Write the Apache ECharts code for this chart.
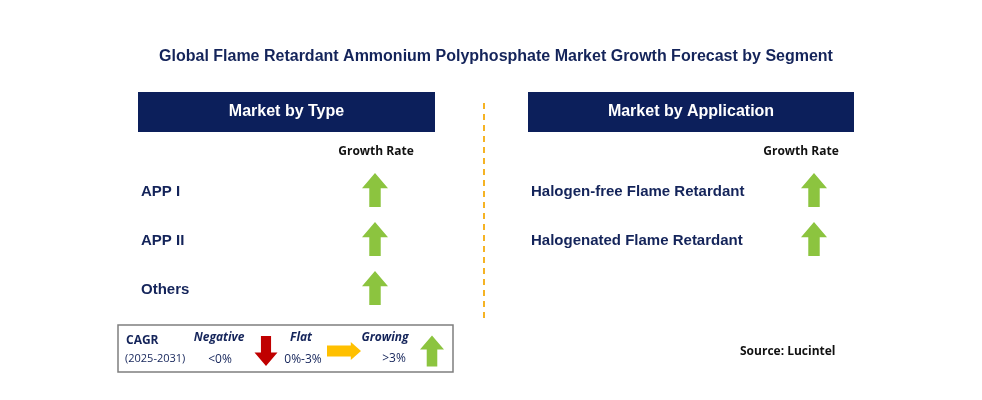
<!DOCTYPE html>
<html>
<head>
<meta charset="utf-8">
<script src="https://cdn.jsdelivr.net/npm/echarts@6/dist/echarts.min.js"></script>
<style>html,body{margin:0;padding:0;background:#fff}#main{width:982px;height:400px}</style>
</head>
<body>
<div id="main"></div>
<script>
var titleText = 'Global Flame Retardant Ammonium Polyphosphate Market Growth Forecast by Segment';
var typeSegments = ['APP I', 'APP II', 'Others'];
var typeRates = ['up', 'up', 'up'];
var appSegments = ['Halogen-free Flame Retardant', 'Halogenated Flame Retardant'];
var appRates = ['up', 'up'];

var navy = '#0c1f5b';
var txt = '#14245a';
var green = '#8cc43f';
var red = '#c00000';
var amber = '#ffc000';

// arrow polygon centred at (cx, cy)
function arrow(cx, cy, dir, w, h, color) {
    var hw = w / 2, sw = w * 0.22, hh = h * 0.45;
    var pts;
    if (dir === 'up') {
        pts = [[cx, cy - h/2], [cx + hw, cy - h/2 + hh], [cx + sw, cy - h/2 + hh], [cx + sw, cy + h/2],
               [cx - sw, cy + h/2], [cx - sw, cy - h/2 + hh], [cx - hw, cy - h/2 + hh]];
    } else if (dir === 'down') {
        pts = [[cx, cy + h/2], [cx + hw, cy + h/2 - hh], [cx + sw, cy + h/2 - hh], [cx + sw, cy - h/2],
               [cx - sw, cy - h/2], [cx - sw, cy + h/2 - hh], [cx - hw, cy + h/2 - hh]];
    } else {
        // right: w is length, h is thickness
        var th = h * 0.3, hl = w * 0.3;
        pts = [[cx + w/2, cy], [cx + w/2 - hl, cy - h/2], [cx + w/2 - hl, cy - th], [cx - w/2, cy - th],
               [cx - w/2, cy + th], [cx + w/2 - hl, cy + th], [cx + w/2 - hl, cy + h/2]];
    }
    return {type: 'polygon', shape: {points: pts}, style: {fill: color}};
}
function colorOf(d) { return d === 'up' ? green : d === 'down' ? red : amber; }

var g = [];
g.push({type: 'text', x: 496, y: 57, style: {text: titleText, font: 'bold 16px "Liberation Sans", Arial', fill: txt, align: 'center', verticalAlign: 'middle'}});

// headers
g.push({type: 'rect', shape: {x: 138, y: 92, width: 297, height: 40}, style: {fill: navy}});
g.push({type: 'text', x: 286.5, y: 112, style: {text: 'Market by Type', font: 'bold 16px "Liberation Sans", Arial', fill: '#fff', align: 'center', verticalAlign: 'middle'}});
g.push({type: 'rect', shape: {x: 528, y: 92, width: 326, height: 40}, style: {fill: navy}});
g.push({type: 'text', x: 691, y: 112, style: {text: 'Market by Application', font: 'bold 16px "Liberation Sans", Arial', fill: '#fff', align: 'center', verticalAlign: 'middle'}});

// divider
g.push({type: 'line', shape: {x1: 484, y1: 103, x2: 484, y2: 320}, style: {stroke: '#f5b324', lineWidth: 2, lineDash: [6, 5]}});

g.push({type: 'text', x: 376, y: 152, style: {text: 'Growth Rate', font: 'bold 12px "Open Sans", Arial', fill: '#111', align: 'center', verticalAlign: 'middle'}});
g.push({type: 'text', x: 801, y: 152, style: {text: 'Growth Rate', font: 'bold 12px "Open Sans", Arial', fill: '#111', align: 'center', verticalAlign: 'middle'}});

var rowY = [192, 241, 290];
typeSegments.forEach(function (s, i) {
    g.push({type: 'text', x: 141, y: rowY[i], style: {text: s, font: 'bold 15px "Liberation Sans", Arial', fill: txt, verticalAlign: 'middle'}});
    g.push(arrow(375, rowY[i] - 2, typeRates[i], 26, 34, colorOf(typeRates[i])));
});
appSegments.forEach(function (s, i) {
    g.push({type: 'text', x: 531, y: rowY[i], style: {text: s, font: 'bold 15px "Liberation Sans", Arial', fill: txt, verticalAlign: 'middle'}});
    g.push(arrow(814, rowY[i] - 2, appRates[i], 26, 34, colorOf(appRates[i])));
});

// legend box
g.push({type: 'rect', shape: {x: 118, y: 325, width: 335, height: 47}, style: {fill: '#fff', stroke: '#7f7f7f', lineWidth: 1.5}});
g.push({type: 'text', x: 126, y: 341, style: {text: 'CAGR', font: 'bold 12px "Open Sans", Arial', fill: txt, verticalAlign: 'middle'}});
g.push({type: 'text', x: 125, y: 359, style: {text: '(2025-2031)', font: '11px "Open Sans", Arial', fill: txt, verticalAlign: 'middle'}});
g.push({type: 'text', x: 219, y: 338, style: {text: 'Negative', font: 'italic bold 12px "Open Sans", Arial', fill: txt, align: 'center', verticalAlign: 'middle'}});
g.push({type: 'text', x: 220, y: 360, style: {text: '<0%', font: '12px "Open Sans", Arial', fill: txt, align: 'center', verticalAlign: 'middle'}});
g.push(arrow(266, 351, 'down', 23, 30, red));
g.push({type: 'text', x: 301, y: 338, style: {text: 'Flat', font: 'italic bold 12px "Open Sans", Arial', fill: txt, align: 'center', verticalAlign: 'middle'}});
g.push({type: 'text', x: 303, y: 360, style: {text: '0%-3%', font: '12px "Open Sans", Arial', fill: txt, align: 'center', verticalAlign: 'middle'}});
g.push(arrow(344, 351, 'right', 34, 18, amber));
g.push({type: 'text', x: 385, y: 338, style: {text: 'Growing', font: 'italic bold 12px "Open Sans", Arial', fill: txt, align: 'center', verticalAlign: 'middle'}});
g.push({type: 'text', x: 394, y: 359, style: {text: '>3%', font: '12px "Open Sans", Arial', fill: txt, align: 'center', verticalAlign: 'middle'}});
g.push(arrow(432, 351, 'up', 24, 31, green));

g.push({type: 'text', x: 740, y: 352, style: {text: 'Source: Lucintel', font: 'bold 12px "Open Sans", Arial', fill: '#111', verticalAlign: 'middle'}});

var myChart = echarts.init(document.getElementById('main'));
myChart.setOption({animation: false, graphic: g});
</script>
</body>
</html>
